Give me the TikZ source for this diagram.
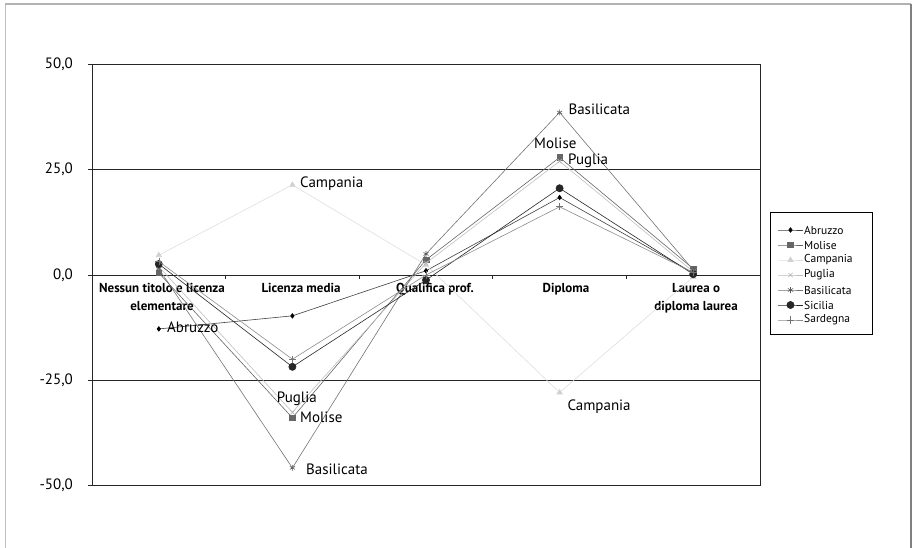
\documentclass[tikz,border=0pt]{standalone}
\usepackage{fontspec}
\setmainfont{PT Sans}
\usepackage{xcolor}
\usetikzlibrary{calc, plotmarks}

\tikzset{
	griglia/.style = {line width = 0.9pt, black!85},
	serie/.style = {line width = 0.6pt},
	Abruzzo/.style = {serie, draw = black!75, mark = diamond*, mark size = 2.3pt, mark options = {fill = black, draw = black}},
	Molise/.style = {serie, draw = black!60, mark = square*, mark size = 2.8pt, mark options = {fill = black!60, draw = black!60}},
	Campania/.style = {serie, draw = black!13, mark = triangle*, mark size = 3pt, mark options = {fill = black!18, draw = black!18}},
	Puglia/.style = {serie, draw = black!25, mark = x, mark size = 3pt, mark options = {draw = black!30}},
	Basilicata/.style = {serie, draw = black!55, mark = asterisk, mark size = 3pt, mark options = {draw = black!65}},
	Sicilia/.style = {serie, draw = black!85, mark = *, mark size = 3.6pt, mark options = {fill = black!85, draw = black!85}},
	Sardegna/.style = {serie, draw = black!45, mark = +, mark size = 3.6pt, mark options = {draw = black!55}},
	etichetta/.style = {font = \fontsize{15}{16}\selectfont, inner sep = 0pt},
	categoria/.style = {font = \bfseries\fontsize{13}{18}\selectfont, align = center, anchor = north, inner sep = 0pt},
	voce/.style = {font = \fontsize{11.5}{12}\selectfont, inner sep = 0pt, anchor = west}
}

\begin{document}
\begin{tikzpicture}[x = 1pt, y = -1pt]
	\def\zero{275};
	\def\scala{4.212};
	\def\passo{133.6};
	\def\sinistra{92};
	\def\destra{760};
	
	\useasboundingbox (0,0) rectangle (913,548);
	
	% cornice esterna
	\draw [black!25, line width = 1pt] (5,548) -- (5,4);
	\draw [black!30, line width = 1.5pt] (5,4) -- (911,4);
	\draw [black!50, line width = 2pt] (911,4) -- (911,548);
	
	% griglia e assi
	\foreach \v/\testo in {50/{50,0}, 25/{25,0}, 0/{0,0}, -25/{-25,0}, -50/{-50,0}} {
		\draw [griglia] (\sinistra - 4, {\zero - \scala*\v}) -- (\destra, {\zero - \scala*\v});
		\node [etichetta, anchor = east] (asse \v) at (73, {\zero - \scala*\v}) {\testo};
	}
	\draw [griglia] (\sinistra, {\zero - \scala*50}) -- (\sinistra, {\zero + \scala*50});
	\draw [griglia] (\destra, {\zero - \scala*50}) -- (\destra, {\zero + \scala*50});
	\foreach \i in {1, ..., 4}
		\draw [griglia] ({\sinistra + \passo*\i}, \zero) -- ++(0, 4);
	
	% categorie
	\node [categoria] (cat 1) at (162, 283) {Nessun titolo e licenza\\elementare};
	\node [categoria] (cat 2) at (301, 283) {Licenza media};
	\node [categoria] (cat 3) at (435, 283) {Qualifica prof.};
	\node [categoria] (cat 4) at (566, 283) {Diploma};
	\node [categoria] (cat 5) at (696, 283) {Laurea o\\diploma laurea};
	
	% punti delle serie
	\foreach \nome/\valori in {
			Abruzzo/{-12.8, -9.7, 1.0, 18.4, 0.5},
			Molise/{0.5, -33.9, 3.6, 27.9, 1.5},
			Campania/{4.7, 21.4, 2.4, -27.9, -0.5},
			Puglia/{2.0, -32.6, 2.8, 27.0, 0.8},
			Basilicata/{1.5, -45.8, 5.0, 38.6, 1.2},
			Sicilia/{2.6, -21.8, -1.2, 20.6, 0.2},
			Sardegna/{3.2, -20.0, 0.0, 16.2, 0.6}} {
		\foreach \v [count = \i] in \valori
			\coordinate (\nome-\i) at ({\sinistra + \passo*(\i - 0.5)}, {\zero - \scala*\v});
	}
	
	\foreach \nome in {Abruzzo, Molise, Campania, Puglia, Basilicata, Sicilia, Sardegna}
		\draw [\nome] plot coordinates {(\nome-1) (\nome-2) (\nome-3) (\nome-4) (\nome-5)};
	
	% etichette dei dati
	\node [etichetta, anchor = base west] (et abruzzo) at (167, 332.3) {Abruzzo};
	\node [etichetta, anchor = base west] (et campania 2) at (300, 187.3) {Campania};
	\node [etichetta, anchor = base west] (et puglia 2) at (276.7, 402.3) {Puglia};
	\node [etichetta, anchor = base west] (et molise 2) at (300, 422.3) {Molise};
	\node [etichetta, anchor = base west] (et basilicata 2) at (306, 474.3) {Basilicata};
	\node [etichetta, anchor = base west] (et basilicata 4) at (568.3, 115) {Basilicata};
	\node [etichetta, anchor = base west] (et molise 4) at (534, 148.3) {Molise};
	\node [etichetta, anchor = base west] (et puglia 4) at (568, 164.3) {Puglia};
	\node [etichetta, anchor = base west] (et campania 4) at (567.3, 410) {Campania};
	
	% legenda
	\draw [black, line width = 0.8pt] (770,212) rectangle (872,334);
	\foreach \nome [count = \i] in {Abruzzo, Molise, Campania, Puglia, Basilicata, Sicilia, Sardegna} {
		\coordinate (voce \i) at (790.5, {215 + 15*\i});
		\coordinate (voce \i a) at (778, {215 + 15*\i});
		\coordinate (voce \i b) at (803, {215 + 15*\i});
		\draw [\nome] plot [mark indices = {2}] coordinates {(voce \i a) (voce \i) (voce \i b)};
		\node [voce] (testo \i) at ($(voce \i b) + (1,0)$) {\nome};
	}
\end{tikzpicture}
\end{document}
